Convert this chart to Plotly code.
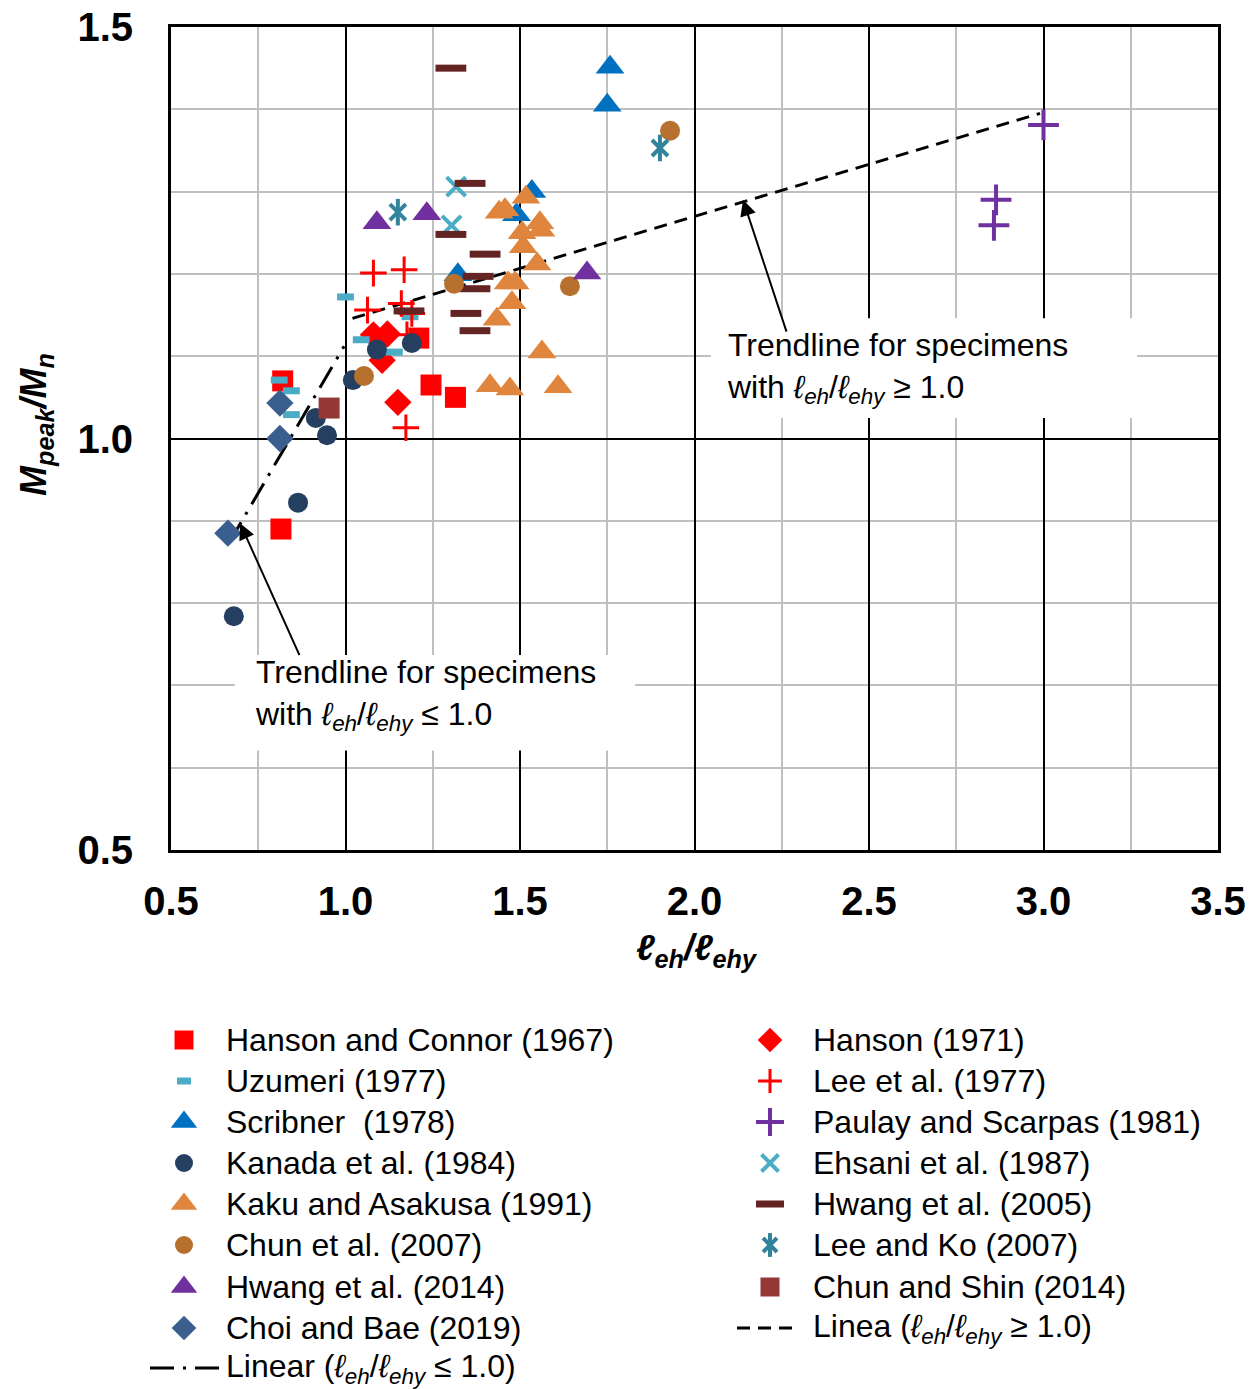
import plotly.graph_objects as go

W, H = 1258, 1389

# ---- data: l_eh/l_ehy (x) vs M_peak/M_n (y) ----
hanson_connor_x = [0.82, 0.815, 1.245, 1.315, 1.21]
hanson_connor_y = [1.07, 0.89, 1.065, 1.05, 1.122]
hanson71_x = [1.08, 1.12, 1.105, 1.15]
hanson71_y = [1.126, 1.127, 1.095, 1.044]
uzumeri_x = [1.0, 1.045, 1.14, 0.81, 0.845, 0.845, 1.185]
uzumeri_y = [1.172, 1.12, 1.105, 1.071, 1.058, 1.029, 1.148]
lee77_x = [1.08, 1.168, 1.063, 1.16, 1.19, 1.176, 1.173]
lee77_y = [1.201, 1.205, 1.156, 1.164, 1.152, 1.126, 1.013]
scribner_x = [1.758, 1.75, 1.534, 1.49, 1.322]
scribner_y = [1.451, 1.405, 1.30, 1.272, 1.199]
paulay_x = [3.0, 2.864, 2.858]
paulay_y = [1.381, 1.290, 1.259]
kanada_x = [0.68, 0.864, 0.915, 0.947, 1.021, 1.09, 1.19]
kanada_y = [0.784, 0.922, 1.025, 1.004, 1.071, 1.108, 1.116]
ehsani_x = [1.317, 1.304]
ehsani_y = [1.306, 1.259]
kaku_x = [1.440, 1.457, 1.517, 1.506, 1.557, 1.560, 1.509, 1.549, 1.466, 1.486,
          1.477, 1.434, 1.563, 1.414, 1.471, 1.609]
kaku_y = [1.275, 1.278, 1.293, 1.250, 1.262, 1.253, 1.233, 1.212, 1.189, 1.189,
          1.165, 1.145, 1.105, 1.064, 1.060, 1.063]
hwang05_x = [1.302, 1.357, 1.302, 1.400, 1.380, 1.371, 1.345, 1.371, 1.182]
hwang05_y = [1.450, 1.310, 1.248, 1.224, 1.197, 1.182, 1.152, 1.131, 1.155]
chun07_x = [1.930, 1.643, 1.311, 1.053]
chun07_y = [1.374, 1.185, 1.188, 1.076]
leeko_x = [1.150, 1.901]
leeko_y = [1.275, 1.353]
hwang14_x = [1.090, 1.233, 1.692]
hwang14_y = [1.262, 1.273, 1.201]
chunshin_x = [0.953]
chunshin_y = [1.037]
choi_x = [0.663, 0.812, 0.812]
choi_y = [0.885, 1.043, 1.0]

# linear trendlines (end points of fitted lines)
trend_hi_x = [1.02, 2.99]
trend_hi_y = [1.146, 1.395]
trend_lo_x = [0.666, 0.996]
trend_lo_y = [0.873, 1.112]

x_ticks = [0.5, 1.0, 1.5, 2.0, 2.5, 3.0, 3.5]
y_ticks = [0.5, 1.0, 1.5]

FONT = "Liberation Sans, Arial, sans-serif"
TXT = 32
LEH = "<i>ℓ<sub>eh</sub></i>/<i>ℓ<sub>ehy</sub></i>"

# series: name, x, y, symbol, size, color, line width, legend column, legend row
series = [
    ("Hanson and Connor (1967)", hanson_connor_x, hanson_connor_y, "square", 21, "#FF0000", 0, 0, 0),
    ("Hanson (1971)", hanson71_x, hanson71_y, "diamond", 21, "#FF0000", 0, 1, 0),
    ("Uzumeri (1977)", uzumeri_x, uzumeri_y, "line-ew", 12, "#4BACC6", 7, 0, 1),
    ("Lee et al. (1977)", lee77_x, lee77_y, "cross-thin", 19, "#FF0000", 3, 1, 1),
    ("Scribner  (1978)", scribner_x, scribner_y, "triangle-up", 25, "#0070C0", 0, 0, 2),
    ("Paulay and Scarpas (1981)", paulay_x, paulay_y, "cross-thin", 22, "#7030A0", 4, 1, 2),
    ("Kanada et al. (1984)", kanada_x, kanada_y, "circle", 20, "#243F60", 0, 0, 3),
    ("Ehsani et al. (1987)", ehsani_x, ehsani_y, "x-thin", 19, "#4BACC6", 4, 1, 3),
    ("Kaku and Asakusa (1991)", kaku_x, kaku_y, "triangle-up", 25, "#E0853D", 0, 0, 4),
    ("Hwang et al. (2005)", hwang05_x, hwang05_y, "line-ew", 22, "#632523", 7, 1, 4),
    ("Chun et al. (2007)", chun07_x, chun07_y, "circle", 20, "#B8702F", 0, 0, 5),
    ("Lee and Ko (2007)", leeko_x, leeko_y, "asterisk6", 19, "#31849B", 4, 1, 5),
    ("Hwang et al. (2014)", hwang14_x, hwang14_y, "triangle-up", 25, "#7030A0", 0, 0, 6),
    ("Chun and Shin (2014)", chunshin_x, chunshin_y, "square", 21, "#953735", 0, 1, 6),
    ("Choi and Bae (2019)", choi_x, choi_y, "diamond", 21, "#3A5F8F", 0, 0, 7),
]

fig = go.Figure()


def add_marks(x, y, symbol, size, color, lw, xa="x", ya="y"):
    if symbol == "asterisk6":
        # six-armed star: an x with a vertical stroke
        add_marks(x, y, "x-thin", size - 3, color, lw, xa, ya)
        add_marks(x, y, "line-ns", size, color, lw, xa, ya)
        return
    fig.add_trace(go.Scatter(
        x=x, y=y, mode="markers", xaxis=xa, yaxis=ya, showlegend=False,
        hoverinfo="skip",
        marker=dict(symbol=symbol, size=size, color=color,
                    line=dict(width=lw, color=color)),
    ))


# trendlines
fig.add_trace(go.Scatter(x=trend_hi_x, y=trend_hi_y, mode="lines", showlegend=False,
                         line=dict(color="black", width=3, dash="13px,8px")))
fig.add_trace(go.Scatter(x=trend_lo_x, y=trend_lo_y, mode="lines", showlegend=False,
                         line=dict(color="black", width=3, dash="24px,9px,3px,9px")))

for name, x, y, sym, size, color, lw, col, row in series:
    add_marks(x, y, sym, size, color, lw)

# ---- legend drawn on a hidden pixel-scaled axis pair ----
row_y = [1040, 1081, 1122, 1163, 1204, 1245, 1287, 1328, 1368]
col_sym_x = [184, 770]
col_txt_x = [224, 811]
annotations = []
for name, x, y, sym, size, color, lw, col, row in series:
    add_marks([col_sym_x[col]], [row_y[row]], sym, size - 2, color, lw, "x2", "y2")
    annotations.append(dict(xref="x2", yref="y2", x=col_txt_x[col], y=row_y[row],
                            text=name, showarrow=False, xanchor="left", yanchor="middle",
                            font=dict(family=FONT, size=TXT, color="black")))

fig.add_trace(go.Scatter(x=[737, 797], y=[row_y[7], row_y[7]], mode="lines", xaxis="x2",
                         yaxis="y2", showlegend=False,
                         line=dict(color="black", width=3, dash="13px,8px")))
annotations.append(dict(xref="x2", yref="y2", x=col_txt_x[1], y=row_y[7],
                        text="Linea (" + LEH + " ≥ 1.0)", showarrow=False,
                        xanchor="left", yanchor="middle",
                        font=dict(family=FONT, size=TXT, color="black")))
fig.add_trace(go.Scatter(x=[150, 219], y=[row_y[8], row_y[8]], mode="lines", xaxis="x2",
                         yaxis="y2", showlegend=False,
                         line=dict(color="black", width=3, dash="24px,9px,3px,9px")))
annotations.append(dict(xref="x2", yref="y2", x=col_txt_x[0], y=row_y[8],
                        text="Linear (" + LEH + " ≤ 1.0)", showarrow=False,
                        xanchor="left", yanchor="middle",
                        font=dict(family=FONT, size=TXT, color="black")))

# ---- trendline callouts ----
shapes = [
    dict(type="rect", xref="x", yref="y", x0=2.047, x1=3.268, y0=1.025, y1=1.146,
         fillcolor="white", line=dict(width=0), layer="between"),
    dict(type="rect", xref="x", yref="y", x0=0.683, x1=1.830, y0=0.621, y1=0.737,
         fillcolor="white", line=dict(width=0), layer="between"),
]
annotations += [
    dict(xref="x", yref="y", x=2.087, y=1.086, xanchor="left", yanchor="middle",
         align="left", showarrow=False,
         text="Trendline for specimens<br>with " + LEH + " ≥ 1.0",
         font=dict(family=FONT, size=TXT, color="black")),
    dict(xref="x", yref="y", x=0.735, y=0.688, xanchor="left", yanchor="middle",
         align="left", showarrow=False,
         text="Trendline for specimens<br>with " + LEH + " ≤ 1.0",
         font=dict(family=FONT, size=TXT, color="black")),
    dict(xref="x", yref="y", axref="x", ayref="y", x=2.139, y=1.290, ax=2.265, ay=1.128,
         text="", showarrow=True, arrowhead=2, arrowsize=1.6, arrowwidth=2,
         arrowcolor="black", standoff=0, startstandoff=0),
    dict(xref="x", yref="y", axref="x", ayref="y", x=0.698, y=0.897, ax=0.870, ay=0.735,
         text="", showarrow=True, arrowhead=2, arrowsize=1.6, arrowwidth=2,
         arrowcolor="black", standoff=0, startstandoff=0),
    # axis titles
    dict(xref="paper", yref="paper", x=697 / W, y=1 - 950 / H, xanchor="center",
         yanchor="middle", showarrow=False,
         text="<b><i>ℓ<sub>eh</sub>/ℓ<sub>ehy</sub></i></b>",
         font=dict(family=FONT, size=36, color="black")),
    dict(xref="paper", yref="paper", x=36 / W, y=1 - 425 / H, xanchor="center",
         yanchor="middle", showarrow=False, textangle=-90,
         text="<b><i>M<sub>peak</sub>/M<sub>n</sub></i></b>",
         font=dict(family=FONT, size=36, color="black")),
]

GRID_MINOR = "#BFBFBF"
fig.update_layout(
    width=W, height=H,
    margin=dict(l=0, r=0, t=0, b=0),
    paper_bgcolor="white", plot_bgcolor="white",
    font=dict(family=FONT, color="black"),
    showlegend=False,
    xaxis=dict(domain=[171 / W, 1218 / W], range=[0.5, 3.5], tickvals=x_ticks,
               ticktext=[f"{v:.1f}" for v in x_ticks],
               tickfont=dict(family=FONT, size=40, color="black", weight="bold"),
               showgrid=True, gridcolor="black", gridwidth=1.5,
               minor=dict(dtick=0.25, showgrid=True, gridcolor=GRID_MINOR, gridwidth=2),
               showline=True, linecolor="black", linewidth=3, mirror=True,
               ticks="", ticklabelstandoff=14, zeroline=False, automargin=False),
    yaxis=dict(domain=[1 - 850 / H, 1 - 27 / H], range=[0.5, 1.5], tickvals=y_ticks,
               ticktext=[f"{v:.1f}" for v in y_ticks],
               tickfont=dict(family=FONT, size=40, color="black", weight="bold"),
               showgrid=True, gridcolor="black", gridwidth=1.5,
               minor=dict(dtick=0.1, showgrid=True, gridcolor=GRID_MINOR, gridwidth=2),
               showline=True, linecolor="black", linewidth=3, mirror=True,
               ticks="", ticklabelstandoff=27, zeroline=False, automargin=False),
    xaxis2=dict(domain=[0, 1], range=[0, W], visible=False, anchor="y2"),
    yaxis2=dict(domain=[0, 1 - 990 / H], range=[H, 990], visible=False, anchor="x2"),
    shapes=shapes,
    annotations=annotations,
)

fig.write_html("out.html")
